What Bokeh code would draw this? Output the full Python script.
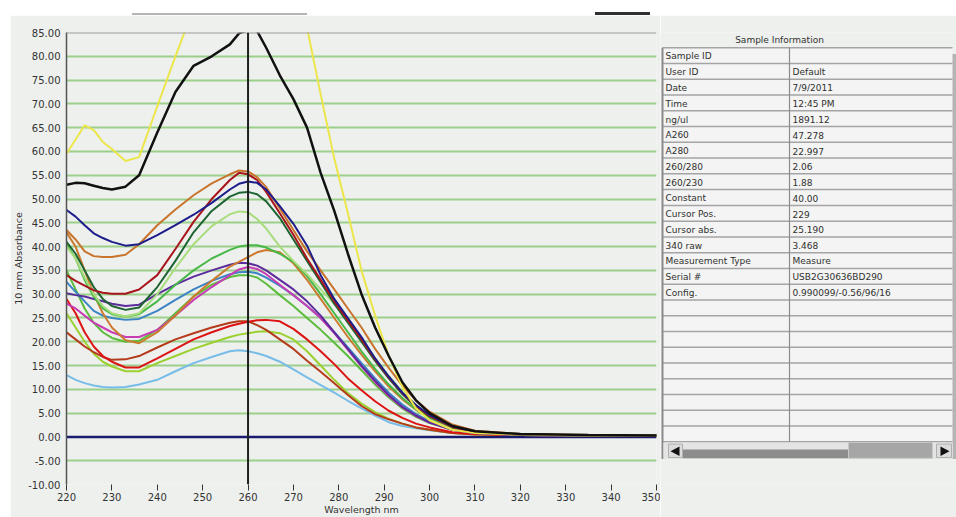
from bokeh.plotting import figure
from bokeh.models import Range1d, FixedTicker, NumeralTickFormatter, Span, ColumnDataSource, Div
from bokeh.layouts import row, column
from bokeh.embed import file_html
from bokeh.resources import INLINE
from bokeh.core.properties import value

# ---------------- data ----------------
wavelength = [220, 222, 224, 226, 228, 230, 233, 236, 240, 244, 248, 252, 256, 258, 260, 262, 264,
              267, 270, 273, 276, 279, 282, 285, 288, 291, 294, 297, 300, 305, 310, 320, 335, 350]

black = [53.0, 53.4, 53.3, 52.8, 52.3, 52.0, 52.6, 55.0, 64.0, 72.5, 78.0, 80.0, 82.5, 84.8, 85.6, 85.3, 81.8,
         76.0, 71.0, 65.0, 55.5, 47.5, 38.5, 30.0, 23.0, 17.0, 11.5, 7.7, 5.0, 2.3, 1.2, 0.6, 0.4, 0.3]
yellow = [59.5, 62.5, 65.5, 64.5, 62.0, 60.5, 58.0, 58.8, 69.5, 80.0, 90.0, 98.0, 105.0, 107.0, 108.0, 107.0, 104.0,
          98.0, 92.0, 86.0, 72.0, 58.5, 47.0, 35.0, 25.5, 17.0, 10.5, 6.0, 3.5, 1.5, 0.8, 0.5, 0.3, 0.3]
navy = [47.7, 46.3, 44.5, 42.8, 41.8, 41.0, 40.2, 40.5, 42.4, 44.5, 46.7, 49.2, 52.0, 53.2, 53.7, 53.4, 52.0,
        48.5, 44.8, 40.2, 34.0, 29.0, 25.0, 21.0, 16.5, 12.7, 9.3, 6.7, 4.6, 2.3, 1.1, 0.5, 0.3, 0.3]
orange1 = [43.5, 41.5, 39.0, 38.0, 37.8, 37.8, 38.3, 40.5, 44.5, 47.8, 50.8, 53.3, 55.2, 56.0, 55.8, 54.6, 52.5,
           48.0, 43.5, 39.0, 35.0, 31.0, 27.0, 23.0, 18.5, 14.5, 10.8, 7.7, 5.3, 2.6, 1.3, 0.6, 0.4, 0.3]
dark_red = [34.0, 32.8, 31.8, 30.8, 30.3, 30.1, 30.1, 31.0, 34.0, 39.5, 45.2, 50.0, 54.0, 55.5, 55.2, 54.0, 51.5,
            47.0, 42.5, 37.5, 33.0, 28.5, 24.5, 20.5, 16.3, 12.5, 9.2, 6.5, 4.4, 2.1, 1.0, 0.5, 0.3, 0.3]
dark_green = [41.0, 38.5, 35.0, 31.5, 29.0, 27.5, 26.7, 27.2, 31.5, 37.0, 43.0, 47.5, 50.5, 51.3, 51.5, 51.0, 49.5,
              46.0, 41.5, 37.0, 32.5, 28.0, 24.0, 20.0, 16.0, 12.3, 9.0, 6.3, 4.3, 2.1, 1.0, 0.5, 0.3, 0.3]
light_green = [40.0, 37.5, 33.5, 30.0, 27.5, 26.0, 25.3, 26.0, 30.0, 35.5, 40.5, 44.3, 46.8, 47.4, 47.2, 45.8, 43.8,
               40.0, 37.0, 34.2, 31.0, 28.0, 24.5, 20.5, 16.5, 12.8, 9.5, 6.7, 4.6, 2.2, 1.0, 0.5, 0.3, 0.3]
green = [40.5, 37.5, 33.0, 29.5, 27.0, 25.8, 25.3, 25.8, 28.5, 32.0, 35.0, 37.5, 39.3, 40.0, 40.3, 40.3, 39.8,
         38.5, 36.8, 33.8, 30.0, 26.0, 22.0, 18.0, 14.3, 11.0, 8.2, 5.8, 4.0, 2.0, 1.0, 0.5, 0.3, 0.3]
orange2 = [43.0, 40.0, 35.0, 30.0, 26.0, 23.0, 20.3, 19.7, 22.0, 25.5, 29.5, 32.8, 35.8, 36.8, 37.8, 38.8, 39.3,
           38.8, 36.5, 33.0, 29.0, 25.0, 21.0, 17.3, 13.8, 10.6, 7.9, 5.7, 4.0, 2.0, 1.0, 0.5, 0.3, 0.3]
purple = [30.2, 29.8, 29.5, 29.0, 28.5, 28.0, 27.5, 27.8, 30.0, 32.0, 33.7, 35.0, 36.2, 36.6, 36.5, 36.0, 35.0,
          33.0, 31.0, 28.5, 25.5, 22.0, 18.5, 15.0, 11.8, 8.8, 6.3, 4.5, 3.0, 1.5, 0.8, 0.4, 0.3, 0.3]
magenta = [28.0, 27.0, 25.5, 24.0, 23.0, 22.0, 21.0, 21.0, 22.5, 25.5, 28.8, 31.5, 34.0, 35.2, 35.7, 35.3, 34.2,
           32.0, 29.8, 27.5, 25.0, 21.8, 18.3, 14.8, 11.5, 8.6, 6.2, 4.4, 3.0, 1.5, 0.8, 0.4, 0.3, 0.3]
teal = [32.6, 30.5, 28.5, 26.5, 25.5, 25.0, 24.6, 24.8, 26.5, 28.8, 31.0, 32.8, 34.2, 34.6, 34.7, 34.4, 33.5,
        31.8, 29.8, 27.5, 25.0, 22.0, 18.8, 15.5, 12.3, 9.3, 6.8, 4.8, 3.3, 1.6, 0.8, 0.4, 0.3, 0.3]
green2 = [35.0, 31.0, 27.0, 24.0, 22.0, 20.8, 20.0, 20.2, 22.5, 26.0, 29.5, 32.0, 33.6, 34.0, 34.0, 33.5, 32.2,
          29.8, 27.5, 25.0, 22.5, 19.8, 17.0, 14.0, 11.0, 8.3, 6.0, 4.2, 2.9, 1.5, 0.8, 0.4, 0.3, 0.3]
red = [29.0, 26.0, 22.0, 19.0, 17.0, 15.8, 14.6, 14.6, 16.5, 18.5, 20.5, 22.0, 23.3, 23.8, 24.2, 24.5, 24.6,
       24.3, 22.7, 20.5, 18.0, 15.3, 12.3, 9.8, 7.5, 5.5, 4.0, 2.8, 2.0, 1.0, 0.6, 0.4, 0.3, 0.3]
brown_red = [22.0, 20.5, 19.0, 17.8, 16.8, 16.2, 16.3, 17.0, 18.8, 20.5, 21.8, 23.0, 24.0, 24.3, 24.3, 23.5, 22.5,
             20.5, 18.5, 16.0, 13.7, 11.3, 8.8, 6.5, 4.8, 3.7, 2.8, 2.0, 1.5, 0.8, 0.5, 0.4, 0.3, 0.3]
yellow_green = [26.0, 23.0, 20.0, 17.5, 15.8, 14.8, 13.8, 13.8, 15.5, 17.0, 18.5, 19.8, 21.0, 21.5, 21.8, 22.1, 22.2,
                21.8, 20.5, 18.0, 15.0, 12.0, 9.2, 7.0, 5.2, 3.8, 2.8, 2.0, 1.5, 0.8, 0.5, 0.4, 0.3, 0.3]
light_blue = [13.0, 12.0, 11.3, 10.8, 10.5, 10.4, 10.5, 11.0, 12.0, 13.8, 15.5, 16.8, 18.0, 18.2, 18.0, 17.6, 17.0,
              15.8, 14.2, 12.5, 10.9, 9.3, 7.6, 6.0, 4.5, 3.1, 2.3, 1.8, 1.4, 0.8, 0.5, 0.4, 0.3, 0.3]

baseline_nm = [220, 350]
baseline_abs = [0.0, 0.0]
cursor_nm = 260

x_ticks = [220, 230, 240, 250, 260, 270, 280, 290, 300, 310, 320, 330, 340, 350]
y_ticks = [-10, -5, 0, 5, 10, 15, 20, 25, 30, 35, 40, 45, 50, 55, 60, 65, 70, 75, 80, 85]
grid_ticks = [-5, 5, 10, 15, 20, 25, 30, 35, 40, 45, 50, 55, 60, 65, 70, 75, 80]

fields = ["Sample ID", "User ID", "Date", "Time", "ng/ul", "A260", "A280", "260/280", "260/230",
          "Constant", "Cursor Pos.", "Cursor abs.", "340 raw", "Measurement Type", "Serial #", "Config."]
field_values = ["", "Default", "7/9/2011", "12:45 PM", "1891.12", "47.278", "22.997", "2.06", "1.88",
                "40.00", "229", "25.190", "3.468", "Measure", "USB2G30636BD290", "0.990099/-0.56/96/16"]
n_rows = 25

# ---------------- styles ----------------
BG = "#eef0ee"
FONT = value("DejaVu Sans")
TOP = 15          # white strip above the panels
LEFT = 10         # white strip left of the chart panel
H = 517 - TOP     # height of chart / table panels
series = [
    (light_blue, "#78bce8", 2),
    (yellow_green, "#9cd030", 2),
    (brown_red, "#b43c1c", 2),
    (red, "#dc1414", 2),
    (green2, "#5cbc3c", 2),
    (teal, "#3c84c4", 2),
    (magenta, "#c83cb4", 2),
    (purple, "#5c2c9c", 2),
    (orange2, "#cc7a30", 2),
    (green, "#48b848", 2),
    (light_green, "#a8dc7c", 2),
    (dark_green, "#1e6432", 2),
    (dark_red, "#a8141c", 2),
    (orange1, "#c8742c", 2),
    (navy, "#1c1c8a", 2),
    (yellow, "#ece64a", 2),
    (black, "#111111", 2.5),
]

# ---------------- chart ----------------
p1 = figure(width=660 - LEFT, height=H, x_range=Range1d(220, 350), y_range=Range1d(-10, 85),
            output_backend="svg", toolbar_location=None,
            min_border_left=66 - LEFT, min_border_right=4, min_border_top=17, min_border_bottom=32,
            background_fill_color=BG, border_fill_color=BG, outline_line_color=None)

p1.xgrid.visible = False
p1.ygrid.ticker = FixedTicker(ticks=grid_ticks)
p1.ygrid.grid_line_color = "#9ccf8a"
p1.ygrid.grid_line_width = 2

p1.xaxis.ticker = FixedTicker(ticks=x_ticks)
p1.xaxis.axis_line_color = None
p1.xaxis.major_tick_in = 0
p1.xaxis.major_tick_out = 6
p1.xaxis.major_tick_line_color = "#333333"
p1.xaxis.minor_tick_line_color = None
p1.xaxis.major_label_standoff = 2
p1.xaxis.axis_label = "Wavelength nm"
p1.xaxis.axis_label_standoff = 0

p1.yaxis.ticker = FixedTicker(ticks=y_ticks)
p1.yaxis.formatter = NumeralTickFormatter(format="0.00")
p1.yaxis.axis_line_color = "#555555"
p1.yaxis.axis_line_width = 1.5
p1.yaxis.major_tick_in = 0
p1.yaxis.major_tick_out = 0
p1.yaxis.minor_tick_line_color = None
p1.yaxis.major_label_standoff = 6
p1.yaxis.axis_label = "10 mm Absorbance"
p1.yaxis.axis_label_standoff = 1

for ax in (p1.xaxis, p1.yaxis):
    ax.major_label_text_font = "DejaVu Sans"
    ax.major_label_text_font_size = "10px"
    ax.major_label_text_color = "#333333"
    ax.axis_label_text_font = "DejaVu Sans"
    ax.axis_label_text_font_size = "9.5px"
    ax.axis_label_text_font_style = "normal"
    ax.axis_label_text_color = "#333333"

p1.add_layout(Span(location=85, dimension="width", line_color="#9a9a9a", line_width=2))

p1.line(baseline_nm, baseline_abs, line_color="#1a1a70", line_width=2.5)
for vals, col, lw in series:
    p1.line(wavelength, vals, line_color=col, line_width=lw)

p1.add_layout(Span(location=cursor_nm, dimension="height", line_color="#202020", line_width=2))

# ---------------- table ----------------
top_r = (TOP - 32) / 17.5
bot_r = (TOP + H - 32) / 17.5
p2 = figure(width=296, height=H, x_range=Range1d(0, 296), y_range=Range1d(bot_r, top_r),
            output_backend="svg", toolbar_location=None, x_axis_type=None, y_axis_type=None,
            min_border=0, min_border_left=0, min_border_right=0, min_border_top=0, min_border_bottom=0,
            background_fill_color=BG, border_fill_color=BG, outline_line_color=None)
p2.grid.grid_line_color = None

# cells
p2.quad(left=[2], right=[292], top=[0], bottom=[n_rows], fill_color="#f3f4f3", line_color=None)
row_lines = list(range(n_rows + 1))
p2.segment(x0=[2] * len(row_lines), x1=[292] * len(row_lines), y0=row_lines, y1=row_lines,
           line_color="#a4a4a4", line_width=1.5)
p2.segment(x0=[129], x1=[129], y0=[0], y1=[n_rows], line_color="#8c8c8c", line_width=1.2)
p2.segment(x0=[2], x1=[2], y0=[0], y1=[n_rows + 1.1], line_color="#8a8a8a", line_width=2)
p2.quad(left=[292], right=[296], top=[0.4], bottom=[n_rows + 1.1], fill_color="#b4b4b4", line_color=None)

src = ColumnDataSource(dict(y=[i + 0.55 for i in range(len(fields))], f=fields, v=field_values))
p2.text(x=5, y="y", text="f", source=src, text_font=FONT, text_font_size="9px",
        text_color="#303030", text_baseline="middle")
p2.text(x=132, y="y", text="v", source=src, text_font=FONT, text_font_size="9px",
        text_color="#303030", text_baseline="middle")
p2.text(x=[119], y=[-0.5], text=["Sample Information"], text_font=FONT, text_font_size="9px",
        text_color="#303030", text_align="center", text_baseline="middle")

# horizontal scrollbar
sb_top = n_rows + 0.05
sb_bot = n_rows + 1.1
p2.quad(left=[3], right=[292], top=[sb_top], bottom=[sb_bot], fill_color="#e4e4e4", line_color=None)
p2.quad(left=[22], right=[188], top=[sb_top + 0.45], bottom=[sb_bot - 0.05], fill_color="#8c8c8c", line_color=None)
p2.quad(left=[188], right=[272], top=[sb_top], bottom=[sb_bot - 0.05], fill_color="#a6a6a6", line_color="#c8c8c8")
p2.quad(left=[8], right=[22], top=[sb_top + 0.1], bottom=[sb_bot - 0.1], fill_color="#dcdcdc", line_color="#b0b0b0")
p2.quad(left=[276], right=[291], top=[sb_top + 0.1], bottom=[sb_bot - 0.1], fill_color="#dcdcdc", line_color="#b0b0b0")
p2.patch(x=[10, 19, 19], y=[n_rows + 0.6, n_rows + 0.3, n_rows + 0.9], fill_color="#111111", line_color=None)
p2.patch(x=[289, 280, 280], y=[n_rows + 0.6, n_rows + 0.3, n_rows + 0.9], fill_color="#111111", line_color=None)

top = Div(width=956, height=TOP, margin=0, text=(
    '<div style="position:relative;width:956px;height:15px;overflow:hidden;background:#ffffff;">'
    '<div style="position:absolute;left:132px;top:13px;width:175px;height:2px;background:#b4b4b4;"></div>'
    '<div style="position:absolute;left:595px;top:12px;width:55px;height:3px;background:#303030;"></div>'
    '</div>'))
left_strip = Div(width=LEFT, height=H, margin=0, text="")

layout = column(top, row(left_strip, p1, p2))
open("out.html", "w").write(file_html(layout, INLINE))
